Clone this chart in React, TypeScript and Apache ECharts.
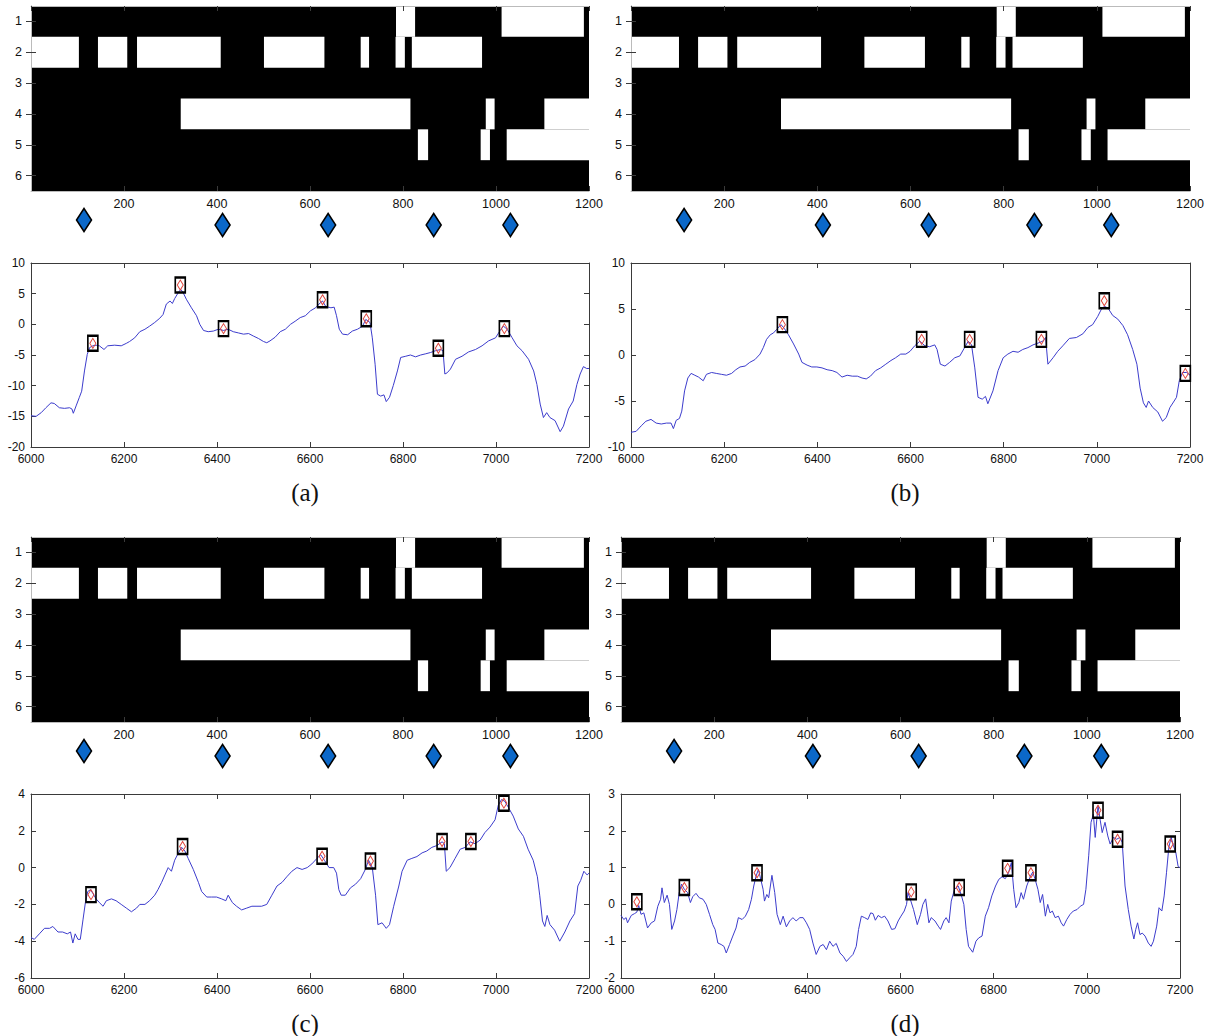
import React, { useEffect, useRef } from "react";
import * as echarts from "echarts";

// ---------- DATA ----------
// Binary image: white segments [startColumn, endColumn, rowIndex(0 = row "1")]
const imageRows = ["1", "2", "3", "4", "5", "6"];
const whiteSegments: number[][] = [
  [785, 826, 0], [1012, 1189, 0],
  [0, 103, 1], [144, 207, 1], [228, 408, 1], [501, 631, 1], [709, 727, 1], [784, 804, 1], [819, 970, 1],
  [322, 816, 3], [978, 997, 3], [1104, 1200, 3],
  [832, 854, 4], [967, 987, 4], [1023, 1200, 4],
];
// Blue diamond markers below the image: [column, level]
const blueDiamonds: number[][] = [[114, 0.5], [412, 0.375], [639, 0.375], [866, 0.375], [1031, 0.375]];

const seriesA: number[][] = [[6000,-14.9],[6011,-15.0],[6022,-14.4],[6032,-13.6],[6043,-12.8],[6050,-12.9],[6061,-13.6],[6072,-13.7],[6083,-13.6],[6088,-13.8],[6091,-14.5],[6097,-13.3],[6104,-11.9],[6109,-10.9],[6115,-7.6],[6121,-4.9],[6126,-3.8],[6133,-3.5],[6140,-3.4],[6147,-3.5],[6157,-4.1],[6165,-3.5],[6180,-3.4],[6194,-3.5],[6205,-3.1],[6212,-2.8],[6223,-2.2],[6234,-1.2],[6245,-0.8],[6255,-0.3],[6266,0.3],[6277,1.0],[6284,1.6],[6291,3.3],[6299,3.8],[6304,3.4],[6309,4.2],[6317,5.2],[6322,5.7],[6327,5.2],[6334,4.1],[6345,2.7],[6356,1.4],[6363,0],[6371,-1.0],[6381,-1.2],[6392,-1.1],[6403,-0.8],[6414,-1.0],[6424,-0.8],[6435,-1.2],[6446,-1.4],[6457,-1.6],[6468,-1.5],[6478,-1.9],[6489,-2.3],[6500,-2.8],[6507,-3.0],[6514,-2.7],[6525,-2.1],[6536,-1.2],[6547,-0.8],[6558,0],[6568,0.5],[6579,1.1],[6590,1.4],[6601,2.2],[6612,2.7],[6622,3.5],[6627,3.8],[6634,2.9],[6645,2.7],[6652,2.8],[6657,1.4],[6663,-0.8],[6670,-1.6],[6681,-1.7],[6691,-1.1],[6702,-0.8],[6713,-0.3],[6720,0.8],[6729,0.3],[6734,-2.2],[6740,-6.5],[6745,-11.4],[6752,-11.7],[6759,-11.5],[6764,-12.6],[6771,-11.9],[6779,-10.0],[6788,-7.6],[6795,-5.4],[6806,-5.2],[6816,-5.0],[6827,-5.3],[6838,-5.0],[6849,-4.8],[6859,-4.6],[6870,-4.3],[6881,-4.1],[6886,-4.3],[6890,-8.1],[6895,-7.9],[6902,-7.3],[6913,-5.7],[6927,-5.2],[6941,-4.5],[6956,-4.1],[6970,-3.5],[6984,-2.7],[6999,-2.2],[7009,-1.0],[7016,-0.3],[7024,-0.8],[7034,-2.1],[7045,-3.5],[7056,-4.3],[7070,-5.7],[7081,-7.6],[7088,-9.8],[7095,-13.0],[7102,-15.2],[7109,-14.4],[7116,-15.2],[7127,-15.7],[7138,-17.5],[7145,-16.6],[7156,-13.8],[7166,-12.5],[7174,-9.8],[7181,-8.1],[7188,-6.9],[7195,-7.2],[7200,-7.2]];
const peaksA: number[][] = [[6133,-3.1],[6321,6.4],[6414,-0.7],[6627,4.0],[6721,0.9],[6876,-3.9],[7018,-0.7]];

const seriesB: number[][] = [[6000,-8.4],[6011,-8.3],[6022,-7.7],[6032,-7.2],[6043,-7.0],[6054,-7.4],[6065,-7.5],[6076,-7.4],[6086,-7.4],[6091,-8.0],[6097,-7.1],[6104,-6.9],[6109,-6.1],[6115,-3.9],[6122,-2.5],[6129,-2.0],[6137,-2.2],[6145,-2.4],[6155,-2.8],[6162,-2.1],[6173,-1.9],[6183,-2.0],[6194,-2.1],[6205,-2.2],[6216,-2.0],[6225,-1.6],[6234,-1.3],[6245,-1.2],[6255,-0.8],[6266,-0.5],[6277,0.1],[6284,0.8],[6291,1.7],[6299,2.2],[6306,2.4],[6313,2.8],[6322,3.3],[6329,2.9],[6338,2.2],[6349,1.2],[6360,0.1],[6367,-0.8],[6378,-1.1],[6388,-1.3],[6399,-1.3],[6410,-1.4],[6421,-1.6],[6432,-1.7],[6442,-1.9],[6453,-2.4],[6464,-2.2],[6475,-2.3],[6486,-2.3],[6496,-2.5],[6505,-2.6],[6514,-2.3],[6525,-1.7],[6536,-1.4],[6547,-1.0],[6558,-0.6],[6568,-0.3],[6579,0.1],[6590,0.1],[6599,0.4],[6609,1.0],[6620,1.5],[6631,1.0],[6641,0.9],[6652,1.1],[6657,0.6],[6664,-1.0],[6674,-1.2],[6684,-0.8],[6695,-0.3],[6706,-0.1],[6716,0.8],[6724,1.5],[6731,1.1],[6738,-1.4],[6745,-4.6],[6754,-4.8],[6761,-4.5],[6766,-5.3],[6777,-3.9],[6788,-1.7],[6799,-0.3],[6809,0.1],[6820,0.4],[6831,0.3],[6841,0.6],[6852,0.8],[6863,1.1],[6874,1.3],[6884,1.5],[6890,1.9],[6895,-1.0],[6906,-0.3],[6916,0.4],[6927,1.0],[6941,1.8],[6956,1.9],[6970,2.3],[6981,3.0],[6991,3.3],[7002,4.2],[7009,4.9],[7016,5.3],[7024,5.1],[7034,4.3],[7045,3.9],[7056,3.2],[7066,2.2],[7077,0.6],[7086,-1.0],[7093,-3.6],[7100,-5.2],[7106,-5.7],[7111,-5.0],[7120,-5.7],[7131,-6.2],[7141,-7.2],[7149,-6.8],[7157,-5.7],[7166,-5.0],[7171,-4.6],[7177,-2.8],[7184,-1.9],[7193,-1.9],[7200,-2.2]];
const peaksB: number[][] = [[6325,3.3],[6624,1.7],[6727,1.7],[6881,1.7],[7016,5.9],[7190,-2.0]];

const seriesC: number[][] = [[6000,-3.8],[6007,-3.9],[6018,-3.6],[6029,-3.3],[6040,-3.3],[6047,-3.2],[6058,-3.5],[6068,-3.5],[6078,-3.6],[6085,-3.5],[6090,-4.1],[6095,-3.6],[6101,-3.9],[6106,-3.9],[6112,-2.8],[6117,-1.9],[6122,-1.3],[6128,-1.2],[6133,-1.4],[6140,-1.7],[6147,-1.9],[6155,-2.1],[6162,-1.8],[6173,-1.7],[6183,-1.8],[6194,-2.0],[6205,-2.2],[6216,-2.4],[6227,-2.2],[6234,-2.0],[6245,-2.0],[6255,-1.8],[6266,-1.5],[6273,-1.2],[6281,-0.8],[6288,-0.4],[6295,0.0],[6302,-0.2],[6309,0.4],[6317,0.8],[6324,1.1],[6331,0.9],[6338,0.5],[6349,-0.1],[6360,-0.8],[6367,-1.3],[6378,-1.6],[6388,-1.6],[6399,-1.6],[6410,-1.7],[6419,-1.8],[6424,-1.5],[6433,-1.9],[6442,-2.1],[6453,-2.3],[6464,-2.2],[6475,-2.1],[6486,-2.1],[6496,-2.1],[6507,-2.0],[6518,-1.5],[6529,-1.0],[6540,-0.8],[6550,-0.5],[6561,-0.2],[6572,0.0],[6583,-0.1],[6594,0.0],[6604,0.2],[6615,0.5],[6623,0.7],[6631,0.4],[6641,0.0],[6651,0.0],[6657,-0.3],[6662,-1.2],[6667,-1.5],[6676,-1.5],[6687,-1.1],[6698,-0.9],[6709,-0.6],[6719,-0.1],[6726,0.4],[6734,0.0],[6741,-1.5],[6746,-3.1],[6755,-3.0],[6764,-3.3],[6771,-3.1],[6780,-2.1],[6791,-1.0],[6798,-0.2],[6809,0.4],[6819,0.5],[6830,0.6],[6841,0.8],[6851,0.9],[6862,1.1],[6873,1.2],[6884,1.4],[6889,1.3],[6893,-0.2],[6901,0.0],[6912,0.5],[6923,1.0],[6934,1.1],[6944,1.4],[6955,1.3],[6966,1.5],[6976,1.9],[6987,2.2],[6998,2.6],[7005,3.4],[7012,3.7],[7019,3.6],[7026,3.3],[7037,2.8],[7048,2.1],[7059,1.7],[7069,1.0],[7080,0.4],[7089,-0.5],[7094,-1.5],[7100,-2.9],[7105,-3.2],[7110,-2.6],[7116,-3.1],[7126,-3.4],[7137,-4.0],[7148,-3.5],[7159,-2.9],[7169,-2.5],[7176,-1.0],[7182,-0.7],[7189,-0.2],[7196,-0.4],[7200,-0.3]];
const peaksC: number[][] = [[6129,-1.47],[6326,1.15],[6626,0.62],[6730,0.36],[6884,1.42],[6946,1.42],[7017,3.5]];

const seriesD: number[][] = [[6000,-0.30],[6006,-0.41],[6011,-0.36],[6014,-0.50],[6022,-0.30],[6029,-0.25],[6034,-0.21],[6038,-0.03],[6043,-0.27],[6049,-0.23],[6057,-0.64],[6065,-0.50],[6072,-0.45],[6079,-0.05],[6085,0.14],[6088,0.45],[6093,0.05],[6099,0.25],[6104,0.0],[6109,-0.68],[6115,-0.45],[6120,-0.14],[6125,0.32],[6130,0.55],[6136,0.41],[6143,0.32],[6149,0.05],[6154,0.21],[6161,0.30],[6168,0.18],[6176,0.14],[6183,0.0],[6190,-0.27],[6197,-0.55],[6202,-0.68],[6208,-1.05],[6215,-1.09],[6221,-1.14],[6226,-1.32],[6233,-1.09],[6240,-0.86],[6247,-0.64],[6252,-0.36],[6260,-0.41],[6267,-0.32],[6274,-0.14],[6280,0.14],[6285,0.50],[6290,0.77],[6295,0.95],[6300,0.68],[6305,0.41],[6308,0.09],[6313,0.27],[6317,0.18],[6324,0.79],[6330,0.32],[6335,-0.27],[6342,-0.55],[6348,-0.32],[6355,-0.61],[6362,-0.45],[6369,-0.36],[6376,-0.45],[6384,-0.36],[6391,-0.36],[6398,-0.50],[6405,-0.68],[6412,-1.05],[6419,-1.36],[6427,-1.14],[6434,-1.09],[6441,-1.23],[6448,-1.00],[6455,-1.14],[6462,-1.06],[6470,-1.32],[6477,-1.41],[6484,-1.55],[6491,-1.45],[6498,-1.36],[6505,-1.14],[6510,-0.68],[6516,-0.32],[6523,-0.36],[6530,-0.41],[6536,-0.23],[6541,-0.25],[6546,-0.43],[6552,-0.30],[6559,-0.36],[6566,-0.32],[6573,-0.45],[6581,-0.68],[6588,-0.66],[6595,-0.45],[6601,-0.32],[6608,-0.18],[6613,0.0],[6616,0.32],[6621,0.14],[6628,-0.14],[6636,-0.55],[6643,-0.27],[6648,0.0],[6654,0.15],[6661,-0.50],[6666,-0.36],[6674,-0.45],[6681,-0.59],[6686,-0.68],[6693,-0.45],[6698,-0.36],[6704,-0.50],[6709,0.09],[6716,0.41],[6724,0.50],[6731,0.23],[6736,0.0],[6741,-0.68],[6746,-1.14],[6755,-1.30],[6762,-1.00],[6768,-0.91],[6775,-0.86],[6782,-0.32],[6789,-0.09],[6796,0.23],[6804,0.50],[6811,0.68],[6818,0.75],[6825,0.70],[6832,0.86],[6838,1.14],[6843,0.41],[6848,-0.09],[6854,0.05],[6859,0.32],[6864,0.14],[6871,0.50],[6879,0.77],[6884,0.88],[6889,0.68],[6895,0.41],[6900,0.05],[6905,0.27],[6911,-0.32],[6916,0.0],[6921,-0.23],[6926,-0.18],[6932,-0.36],[6939,-0.32],[6945,-0.50],[6950,-0.59],[6957,-0.41],[6964,-0.27],[6971,-0.18],[6979,-0.14],[6986,-0.05],[6993,0.0],[6998,0.41],[7004,1.32],[7009,2.23],[7014,2.45],[7018,1.82],[7024,2.68],[7029,2.27],[7033,1.95],[7039,2.23],[7045,1.86],[7050,1.64],[7057,1.82],[7064,1.77],[7071,1.82],[7076,1.68],[7082,0.50],[7089,-0.14],[7095,-0.59],[7101,-0.94],[7105,-0.68],[7109,-0.50],[7114,-0.82],[7119,-0.78],[7125,-0.86],[7132,-1.05],[7138,-1.14],[7143,-1.00],[7150,-0.59],[7155,-0.09],[7161,-0.18],[7166,0.23],[7171,0.86],[7176,1.55],[7181,1.82],[7186,1.59],[7191,1.41],[7196,1.03],[7200,1.0]];
const peaksD: number[][] = [[6034,0.07],[6136,0.46],[6292,0.86],[6623,0.34],[6726,0.46],[6830,0.98],[6880,0.86],[7024,2.56],[7066,1.77],[7179,1.64]];

const captions = ["(a)", "(b)", "(c)", "(d)"];
const yRanges: number[][] = [[-20, 10, 5], [-10, 10, 5], [-6, 4, 2], [-2, 3, 1]];

// ---------- LAYOUT ----------
const panels = [
  { left: 31, width: 558, imgTop: 6, lineTop: 263, capX: 305, capY: 492, line: seriesA, peaks: peaksA },
  { left: 631, width: 559, imgTop: 6, lineTop: 263, capX: 905, capY: 492, line: seriesB, peaks: peaksB },
  { left: 31, width: 558, imgTop: 537, lineTop: 794, capX: 305, capY: 1023, line: seriesC, peaks: peaksC },
  { left: 621, width: 559, imgTop: 537, lineTop: 794, capX: 905, capY: 1023, line: seriesD, peaks: peaksD },
];

const AX = "#3a3a3a";
const FONT = "Liberation Sans, Arial, sans-serif";
const plain = (v: number) => String(v);

function buildOption() {
  const grid: any[] = [];
  const xAxis: any[] = [];
  const yAxis: any[] = [];
  const series: any[] = [];
  const graphic: any[] = [];

  const tickStyle = { show: true, inside: true, length: 5, lineStyle: { color: AX, width: 1 } };
  const lineStyle = { show: true, lineStyle: { color: AX, width: 1 } };
  const imgLabel = { color: "#111", fontSize: 12.5, fontFamily: FONT, formatter: plain };
  const lineLabel = { color: "#111", fontSize: 12, fontFamily: FONT, formatter: plain };

  panels.forEach((p, i) => {
    const gImg = grid.length;
    grid.push({ left: p.left, top: p.imgTop, width: p.width, height: 185, show: true, backgroundColor: "#000", borderWidth: 0 });
    const gDia = grid.length;
    grid.push({ left: p.left, top: p.imgTop + 194, width: p.width, height: 40, show: false });
    const gLine = grid.length;
    grid.push({ left: p.left, top: p.lineTop, width: p.width, height: 184, show: false });

    const xb = 5 * i;
    // image x axes
    xAxis.push({ type: "value", gridIndex: gImg, min: 0, max: 1200, interval: 200, position: "bottom", z: 10,
      axisLine: { show: true, onZero: false, lineStyle: { color: "#bbb" } }, axisTick: tickStyle,
      axisLabel: { ...imgLabel, margin: 6, showMinLabel: false, showMaxLabel: true }, splitLine: { show: false } });
    xAxis.push({ type: "value", gridIndex: gImg, min: 0, max: 1200, interval: 200, position: "top", z: 10,
      axisLine: { show: true, onZero: false, lineStyle: { color: "#bbb" } }, axisTick: tickStyle,
      axisLabel: { show: false }, splitLine: { show: false } });
    xAxis.push({ type: "value", gridIndex: gDia, min: 0, max: 1200, show: false });
    // line x axes
    xAxis.push({ type: "value", gridIndex: gLine, min: 6000, max: 7200, interval: 200, position: "bottom",
      axisLine: { ...lineStyle, onZero: false }, axisTick: tickStyle,
      axisLabel: { ...lineLabel, margin: 6, showMinLabel: true, showMaxLabel: true }, splitLine: { show: false } });
    xAxis.push({ type: "value", gridIndex: gLine, min: 6000, max: 7200, interval: 200, position: "top",
      axisLine: { ...lineStyle, onZero: false }, axisTick: tickStyle, axisLabel: { show: false }, splitLine: { show: false } });

    // image y axes
    yAxis.push({ type: "category", gridIndex: gImg, data: imageRows, inverse: true, position: "left", z: 10,
      axisLine: { show: true, lineStyle: { color: "#bbb" } }, axisTick: { ...tickStyle, alignWithLabel: true },
      axisLabel: { color: "#111", fontSize: 12.5, fontFamily: FONT, margin: 9 }, splitLine: { show: false } });
    yAxis.push({ type: "category", gridIndex: gImg, data: imageRows, inverse: true, position: "right", z: 10,
      axisLine: { show: true, lineStyle: { color: "#bbb" } }, axisTick: { ...tickStyle, alignWithLabel: true },
      axisLabel: { show: false }, splitLine: { show: false } });
    yAxis.push({ type: "value", gridIndex: gDia, min: 0, max: 1, show: false });
    const [ymin, ymax, yint] = yRanges[i];
    yAxis.push({ type: "value", gridIndex: gLine, min: ymin, max: ymax, interval: yint, position: "left",
      axisLine: { ...lineStyle, onZero: false }, axisTick: tickStyle,
      axisLabel: { ...lineLabel, margin: 6, showMinLabel: true, showMaxLabel: true }, splitLine: { show: false } });
    yAxis.push({ type: "value", gridIndex: gLine, min: ymin, max: ymax, interval: yint, position: "right",
      axisLine: { ...lineStyle, onZero: false }, axisTick: tickStyle, axisLabel: { show: false }, splitLine: { show: false } });

    series.push({
      type: "custom", xAxisIndex: xb, yAxisIndex: xb, z: 2, data: whiteSegments,
      encode: { x: [0, 1], y: 2 },
      renderItem: (params: any, api: any) => {
        const s = api.coord([api.value(0), api.value(2)]);
        const e = api.coord([api.value(1), api.value(2)]);
        const h = api.size([0, 1])[1];
        return { type: "rect", shape: { x: s[0], y: s[1] - h / 2, width: e[0] - s[0], height: h }, style: { fill: "#fff" } };
      },
    });
    series.push({
      type: "scatter", xAxisIndex: xb + 2, yAxisIndex: xb + 2, data: blueDiamonds, symbol: "diamond", symbolSize: [15, 23],
      itemStyle: { color: "#0b68c9", borderColor: "#000", borderWidth: 1.6, opacity: 1 },
    });
    series.push({
      type: "line", xAxisIndex: xb + 3, yAxisIndex: xb + 3, data: p.line, showSymbol: false, symbol: "none",
      lineStyle: { color: "#3c3ccc", width: 1 }, z: 2,
    });
    series.push({
      type: "scatter", xAxisIndex: xb + 3, yAxisIndex: xb + 3, data: p.peaks, symbol: "diamond", symbolSize: [6, 10], z: 4,
      itemStyle: { color: "rgba(0,0,0,0)", borderColor: "#e0443a", borderWidth: 1, opacity: 1 },
    });
    series.push({
      type: "scatter", xAxisIndex: xb + 3, yAxisIndex: xb + 3, data: p.peaks, symbol: "rect", symbolSize: [10, 15], z: 5,
      itemStyle: { color: "rgba(0,0,0,0)", borderColor: "#000", borderWidth: 2, opacity: 1 },
    });

    graphic.push({
      type: "text", x: p.capX, y: p.capY, z: 10,
      style: { text: captions[i], fill: "#111", font: '25px "Liberation Serif", "DejaVu Serif", serif', textAlign: "center", textVerticalAlign: "middle" },
    });
  });

  return { animation: false, backgroundColor: "#fff", grid, xAxis, yAxis, series, graphic };
}

export default function App() {
  const ref = useRef<HTMLDivElement>(null);
  useEffect(() => {
    document.body.style.margin = "0";
    const chart = echarts.init(ref.current!, undefined, { renderer: "svg" });
    chart.setOption(buildOption() as any);
    return () => chart.dispose();
  }, []);
  return <div ref={ref} style={{ width: 1212, height: 1036 }} />;
}
